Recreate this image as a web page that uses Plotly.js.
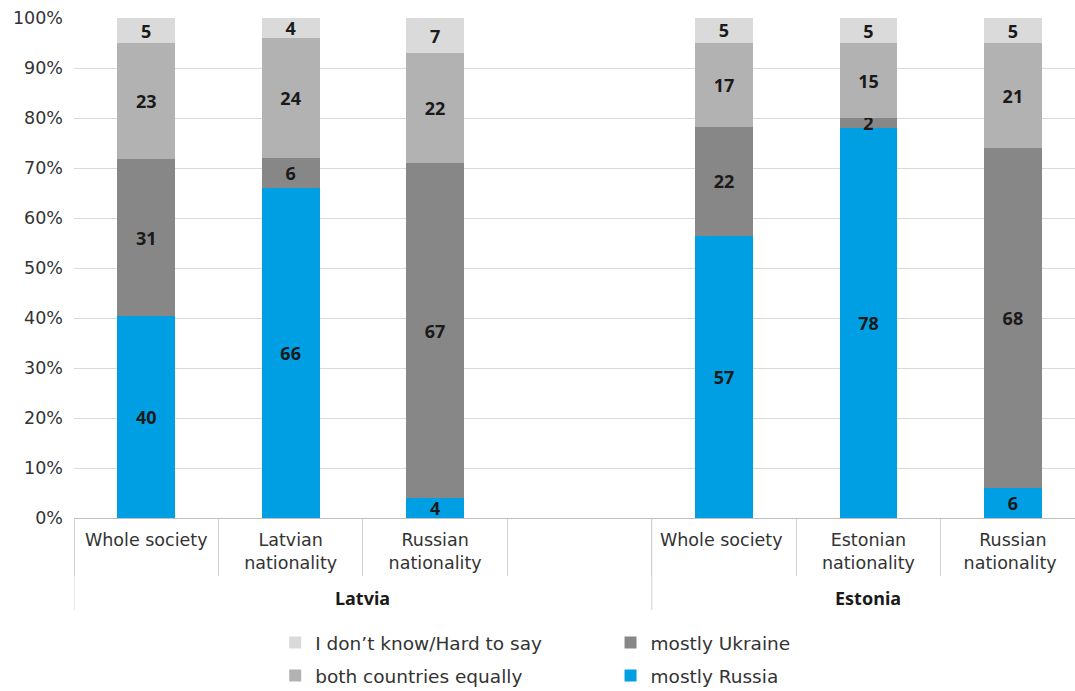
<!DOCTYPE html>
<html>
<head>
<meta charset="utf-8">
<script src="https://cdn.plot.ly/plotly-3.0.1.min.js"></script>
<style>html,body{margin:0;padding:0;background:#fff;}#chart{width:1075px;height:691px;}</style>
</head>
<body>
<div id="chart"></div>
<script>
// Category slots (trailing spaces keep repeated labels distinct; " " is the empty gap slot)
const categories = ["Whole society", "Latvian<br>nationality", "Russian<br>nationality", " ", "Whole society ", "Estonian<br>nationality", "Russian<br>nationality "];
const groupNames = ["Latvia", "Estonia"];
const groupSlots = [[0, 3], [4, 6]];   // first/last category index of each group
const mostlyRussia = [40, 66, 4, null, 57, 78, 6];
const mostlyUkraine = [31, 6, 67, null, 22, 2, 68];
const bothEqually = [23, 24, 22, null, 17, 15, 21];
const dontKnow = [5, 4, 7, null, 5, 5, 5];

const seriesNames = ["mostly Russia", "mostly Ukraine", "both countries equally", "I don\u2019t know/Hard to say"];
const seriesValues = [mostlyRussia, mostlyUkraine, bothEqually, dontKnow];
const seriesColors = ["#009FE3", "#878787", "#B2B2B2", "#DADADA"];
const seriesLegends = ["legend2", "legend2", "legend", "legend"];
const seriesRanks = [2, 1, 2, 1];

const FONT = "DejaVu Sans, Noto Sans, sans-serif";
const FONT2 = "Noto Sans, DejaVu Sans, sans-serif";

const traces = seriesValues.map((vals, i) => ({
  type: "bar",
  name: seriesNames[i],
  legendgroup: "g" + i,
  legendrank: seriesRanks[i],
  x: categories,
  y: vals,
  text: vals.map(v => v == null ? "" : String(v)),
  textposition: "inside",
  insidetextanchor: "middle",
  textangle: 0,
  constraintext: "none",
  textfont: {family: FONT2, size: 18, color: "#1a1a1a", weight: 700},
  marker: {color: seriesColors[i], line: {width: 0}},
  legend: seriesLegends[i],
  hoverinfo: "name+y"
}));

const legendBase = {
  y: -0.212, yanchor: "top",
  orientation: "v",
  traceorder: "grouped",
  font: {family: FONT, size: 18.5, color: "#333333"},
  itemwidth: 30,
  tracegroupgap: 6,
  bgcolor: "rgba(0,0,0,0)"
};

// Long separator lines at group starts, and group titles
const shapes = groupSlots.map(g => ({
  type: "line", xref: "x", yref: "paper",
  x0: g[0] - 0.5, x1: g[0] - 0.5, y0: 0, y1: -0.184,
  line: {color: "#D0D0D0", width: 1}
}));
const annotations = groupSlots.map((g, k) => ({
  xref: "x", yref: "paper",
  x: (g[0] + g[1]) / 2, y: -0.16,
  text: "<b>" + groupNames[k] + "</b>",
  showarrow: false,
  xanchor: "center", yanchor: "middle",
  font: {family: FONT2, size: 18, color: "#1a1a1a"}
}));

const layout = {
  width: 1075,
  height: 691,
  margin: {l: 74, r: 0, t: 18, b: 173, autoexpand: false},
  paper_bgcolor: "#ffffff",
  plot_bgcolor: "#ffffff",
  barmode: "stack",
  barnorm: "percent",
  bargap: 0.6,
  font: {family: FONT, size: 17, color: "#333333"},
  xaxis: {
    type: "category",
    categoryorder: "array",
    categoryarray: categories,
    range: [-0.5, 6.43],
    showline: true,
    linecolor: "#BFBFBF",
    linewidth: 1,
    ticks: "outside",
    tickson: "boundaries",
    ticklen: 57,
    tickcolor: "#D0D0D0",
    ticklabelstandoff: 6,
    tickfont: {family: FONT, size: 17.5, color: "#333333"},
    showgrid: false,
    zeroline: false,
    automargin: false
  },
  yaxis: {
    range: [0, 100],
    dtick: 10,
    ticksuffix: "%",
    showgrid: true,
    gridcolor: "#D9D9D9",
    gridwidth: 1,
    zeroline: false,
    showline: false,
    ticks: "",
    ticklabelstandoff: 10,
    tickfont: {family: FONT, size: 17.5, color: "#333333"},
    automargin: false
  },
  legend: Object.assign({x: 0.201, xanchor: "left"}, legendBase),
  legend2: Object.assign({x: 0.536, xanchor: "left"}, legendBase),
  showlegend: true,
  shapes: shapes,
  annotations: annotations
};

Plotly.newPlot("chart", traces, layout, {displayModeBar: false, staticPlot: true});
</script>
</body>
</html>
